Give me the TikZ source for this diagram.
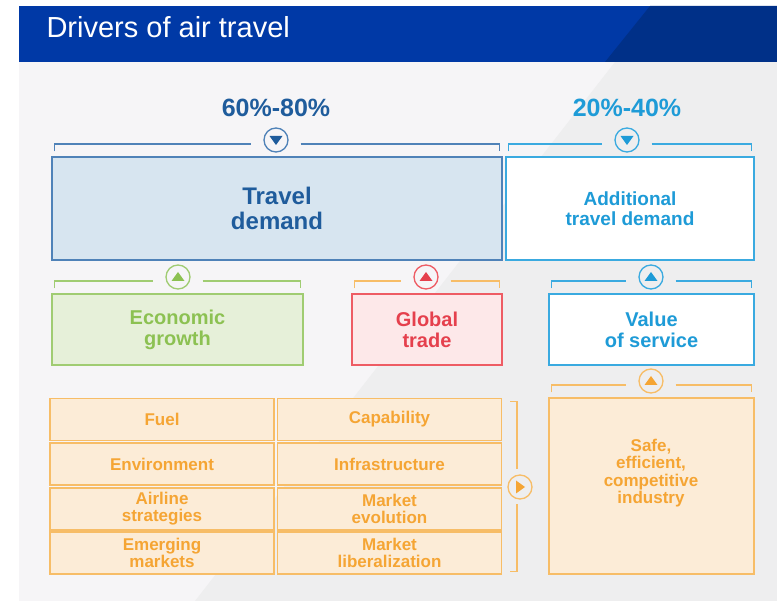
\documentclass[tikz,border=0pt]{standalone}
\usepackage{fontspec}
\setmainfont{Liberation Sans}
\usetikzlibrary{calc}

\definecolor{hdrblue}{HTML}{0039A6}
\definecolor{hdrdark}{HTML}{003088}
\definecolor{bggray}{HTML}{F6F5F7}
\definecolor{bgband}{HTML}{EEEEEF}
\definecolor{tdtext}{HTML}{1F5C9C}
\definecolor{tdfill}{HTML}{D7E5F0}
\definecolor{tdline}{HTML}{4F82B8}
\definecolor{ltblue}{HTML}{1E9BD7}
\definecolor{ltline}{HTML}{3AAAE0}
\definecolor{grtext}{HTML}{8CC152}
\definecolor{grfill}{HTML}{E6F0D9}
\definecolor{grline}{HTML}{A0CC72}
\definecolor{rdtext}{HTML}{E5404D}
\definecolor{rdfill}{HTML}{FDE8E9}
\definecolor{rdline}{HTML}{EE5C64}
\definecolor{ortext}{HTML}{F5A534}
\definecolor{orfill}{HTML}{FCECD7}
\definecolor{orline}{HTML}{F7BD67}

\begin{document}
\begin{tikzpicture}[x=1pt, y=-1pt, font=\bfseries,
    box/.style={rectangle, line width=1.3pt, align=center, inner sep=0pt},
    cell/.style={box, draw=orline, fill=orfill, text=ortext, minimum width=224pt, minimum height=42pt,
        font=\bfseries\fontsize{17}{17}\selectfont},
    knob/.style={circle, draw=#1, line width=1.3pt, minimum size=24pt, inner sep=0pt},
    tridown/.style={path picture={\fill[#1] ([shift={(-6.5pt,4pt)}]path picture bounding box.center) -- ++(13pt,0pt) -- ++(-6.5pt,-9pt) -- cycle;}},
    triup/.style={path picture={\fill[#1] ([shift={(-6.5pt,-4pt)}]path picture bounding box.center) -- ++(13pt,0pt) -- ++(-6.5pt,9pt) -- cycle;}},
    triright/.style={path picture={\fill[#1] ([shift={(-4pt,6.5pt)}]path picture bounding box.center) -- ++(0pt,-13pt) -- ++(9pt,6.5pt) -- cycle;}},
    brk/.style={line width=1.2pt}
]
\useasboundingbox (0,0) rectangle (777,601);

% Background and header
\fill[white] (0,0) rectangle (777,601);
\fill[bggray] (19,62) rectangle (777,601);
\fill[bgband] (195,601) -- (615,62) -- (777,62) -- (777,601) -- cycle;
\fill[hdrblue] (19,6) rectangle (777,62);
\fill[hdrdark] (605,62) -- (650,6) -- (777,6) -- (777,62) -- cycle;
\node[anchor=base west, text=white, font=\mdseries\fontsize{29}{30}\selectfont] (title) at (43,38) {Drivers of air travel};

% Shares
\node[anchor=base, text=tdtext, font=\bfseries\fontsize{25}{26}\selectfont] (share1) at (276,117) {60\%-80\%};
\node[anchor=base, text=ltblue, font=\bfseries\fontsize{25}{26}\selectfont] (share2) at (627,117) {20\%-40\%};

% Demand boxes
\node[box, draw=tdline, fill=tdfill, text=tdtext, minimum width=450pt, minimum height=103pt,
    font=\bfseries\fontsize{24}{25}\selectfont] (travel) at (277,208.5) {Travel\\demand};
\node[box, draw=ltline, fill=white, text=ltblue, minimum width=248pt, minimum height=103pt,
    font=\bfseries\fontsize{19}{20}\selectfont] (addtl) at (630,208.5) {Additional\\travel demand};

% Driver boxes
\node[box, draw=grline, fill=grfill, text=grtext, minimum width=251pt, minimum height=71pt,
    font=\bfseries\fontsize{20}{21}\selectfont] (econ) at (177.5,329.5) {Economic\\growth};
\node[box, draw=rdline, fill=rdfill, text=rdtext, minimum width=150pt, minimum height=71pt,
    font=\bfseries\fontsize{20}{21}\selectfont] (trade) at (427,329.5) {Global\\trade};
\node[box, draw=ltline, fill=white, text=ltblue, minimum width=205pt, minimum height=71pt,
    font=\bfseries\fontsize{20}{21}\selectfont] (value) at (651.5,329.5) {Value\\of service};

% Industry factors
\node[cell] (fuel) at (162,419.5) {Fuel};
\node[cell] (cap) at (389.5,419.5) {Capability};
\node[cell] (env) at (162,464) {Environment};
\node[cell] (infra) at (389.5,464) {Infrastructure};
\node[cell] (airl) at (162,509) {Airline\\strategies};
\node[cell] (mevo) at (389.5,509) {Market\\evolution};
\node[cell] (emer) at (162,553) {Emerging\\markets};
\node[cell] (mlib) at (389.5,553) {Market\\liberalization};
\node[box, draw=orline, fill=orfill, minimum width=205pt, minimum height=176pt] (safe) at (651.5,486) {};
\node[text=ortext, align=center, font=\bfseries\fontsize{17}{17.5}\selectfont] (safetxt) at (651,473)
    {Safe,\\efficient,\\competitive\\industry};

% Markers
\node[knob=tdline, tridown=tdtext] (kTravel) at (276,140) {};
\node[knob=ltline, tridown=ltblue] (kAddtl) at (627,140) {};
\node[knob=grline, triup=grtext] (kEcon) at (178,277) {};
\node[knob=rdline, triup=rdtext] (kTrade) at (426,277) {};
\node[knob=ltline, triup=ltblue] (kValue) at (651,277) {};
\node[knob=orline, triup=ortext] (kSafe) at (651,381) {};
\node[knob=orline, triright=ortext] (kGrid) at (520,487) {};

% Brackets
\draw[brk, draw=tdline] ([shift={(3pt,5pt)}]travel.north west) |- ([shift={(-12pt,-4pt)}]kTravel.west);
\draw[brk, draw=tdline] ([shift={(12pt,-4pt)}]kTravel.east) -| ([shift={(-3pt,5pt)}]travel.north east);
\draw[brk, draw=ltline] ([shift={(3pt,5pt)}]addtl.north west) |- ([shift={(-12pt,-4pt)}]kAddtl.west);
\draw[brk, draw=ltline] ([shift={(12pt,-4pt)}]kAddtl.east) -| ([shift={(-3pt,5pt)}]addtl.north east);
\draw[brk, draw=grline] ([shift={(3pt,5pt)}]econ.north west) |- ([shift={(-12pt,-4pt)}]kEcon.west);
\draw[brk, draw=grline] ([shift={(12pt,-4pt)}]kEcon.east) -| ([shift={(-3pt,5pt)}]econ.north east);
\draw[brk, draw=orline] ([shift={(3pt,5pt)}]trade.north west) |- ([shift={(-12pt,-4pt)}]kTrade.west);
\draw[brk, draw=orline] ([shift={(12pt,-4pt)}]kTrade.east) -| ([shift={(-3pt,5pt)}]trade.north east);
\draw[brk, draw=ltline] ([shift={(3pt,5pt)}]value.north west) |- ([shift={(-12pt,-4pt)}]kValue.west);
\draw[brk, draw=ltline] ([shift={(12pt,-4pt)}]kValue.east) -| ([shift={(-3pt,5pt)}]value.north east);
\draw[brk, draw=orline] ([shift={(3pt,5pt)}]safe.north west) |- ([shift={(-12pt,-4pt)}]kSafe.west);
\draw[brk, draw=orline] ([shift={(12pt,-4pt)}]kSafe.east) -| ([shift={(-3pt,5pt)}]safe.north east);
\draw[brk, draw=orline] ([shift={(8pt,-4pt)}]cap.north east) -| ([shift={(-3pt,5pt)}]kGrid.north);
\draw[brk, draw=orline] ([shift={(8pt,3pt)}]mlib.south east) -| ([shift={(-3pt,-4pt)}]kGrid.south);
\end{tikzpicture}
\end{document}
